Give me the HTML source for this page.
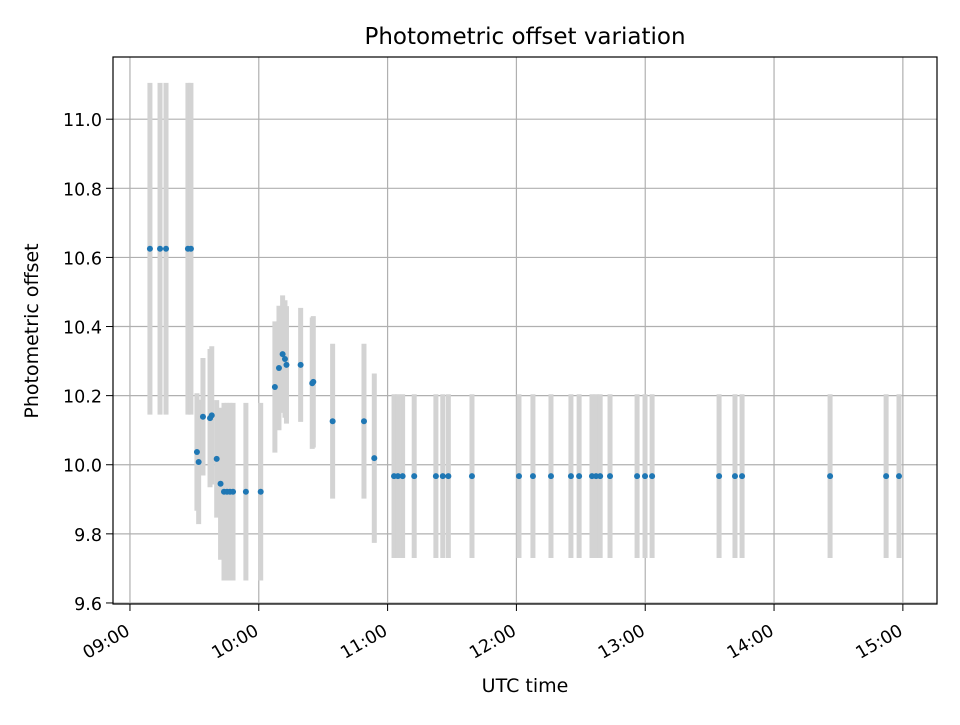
<!DOCTYPE html>
<html><head><meta charset="utf-8"><style>
body{margin:0;background:#fff}
svg{font-family:"DejaVu Sans","Liberation Sans",sans-serif}
</style></head><body>
<svg id="chart" width="960" height="720">
<rect width="960" height="720" fill="#fff"/>
<text x="525" y="44" font-size="23" text-anchor="middle">Photometric offset variation</text>
<g id="grid"></g><g id="bars"></g><g id="pts"></g><g id="axes"></g>
<text x="525" y="692" font-size="19" text-anchor="middle">UTC time</text>
<text transform="translate(38,331) rotate(-90)" font-size="19" text-anchor="middle">Photometric offset</text>
</svg>
<script>
// minutes after 09:00 UTC
const times=[9.3,14.0,16.8,27.0,28.4,31.2,32.0,34.0,37.3,38.1,40.4,42.2,43.8,45.2,46.6,48.0,54.0,60.9,67.5,69.4,71.1,72.2,72.9,79.5,84.9,85.4,94.4,109.0,113.8,123.0,124.8,127.0,132.4,142.5,145.7,148.3,159.3,181.2,187.7,196.1,205.4,209.2,215.2,217.1,219.0,223.6,236.2,239.9,243.2,274.4,281.8,285.1,326.1,352.2,358.2];
const offsets=[10.625,10.625,10.625,10.625,10.625,10.037,10.008,10.139,10.135,10.143,10.017,9.945,9.922,9.922,9.922,9.922,9.922,9.922,10.225,10.28,10.32,10.306,10.289,10.289,10.236,10.24,10.126,10.126,10.019,9.967,9.967,9.967,9.967,9.967,9.967,9.967,9.967,9.967,9.967,9.967,9.967,9.967,9.967,9.967,9.967,9.967,9.967,9.967,9.967,9.967,9.967,9.967,9.967,9.967,9.967];
const errors=[0.48,0.48,0.48,0.48,0.48,0.17,0.18,0.17,0.2,0.2,0.17,0.22,0.257,0.257,0.257,0.257,0.257,0.257,0.19,0.18,0.17,0.17,0.17,0.165,0.19,0.19,0.224,0.224,0.245,0.237,0.237,0.237,0.237,0.237,0.237,0.237,0.237,0.237,0.237,0.237,0.237,0.237,0.237,0.237,0.237,0.237,0.237,0.237,0.237,0.237,0.237,0.237,0.237,0.237,0.237];
const yTicks=[9.6,9.8,10.0,10.2,10.4,10.6,10.8,11.0];
const xTickLabels=["09:00","10:00","11:00","12:00","13:00","14:00","15:00"];
const xTickMinutes=[0,60,120,180,240,300,360];

const L=113,R=937,T=57,B=604;
const xMin=-7.9,xMax=375.9,yMin=9.597,yMax=11.18;
const X=m=>L+(m-xMin)/(xMax-xMin)*(R-L);
const Y=v=>B-(v-yMin)/(yMax-yMin)*(B-T);
const NS="http://www.w3.org/2000/svg";
function mk(tag,attrs,parent){const e=document.createElementNS(NS,tag);for(const k in attrs)e.setAttribute(k,attrs[k]);parent.appendChild(e);return e;}
const grid=document.getElementById('grid'),bars=document.getElementById('bars'),pts=document.getElementById('pts'),axes=document.getElementById('axes');
yTicks.forEach(v=>{
  const g=mk('line',{x1:L,x2:R,y1:Y(v),y2:Y(v),stroke:'#b0b0b0','stroke-width':1.2},grid);
  
  
  mk('line',{x1:L-7,x2:L,y1:Y(v),y2:Y(v),stroke:'#000'},axes);
  const t=mk('text',{x:L-11,y:Y(v)+7,'font-size':17.5,'text-anchor':'end'},axes);
  t.textContent=v.toFixed(1);
  
  
});
xTickMinutes.forEach((m,i)=>{
  const x=X(m);
  const g=mk('line',{x1:x,x2:x,y1:T,y2:B,stroke:'#b0b0b0','stroke-width':1.2},grid);
  
  
  mk('line',{x1:x,x2:x,y1:B,y2:B+7,stroke:'#000'},axes);
  const t=mk('text',{transform:`translate(${x+1},${B+30}) rotate(-30)`,'font-size':17.5,'text-anchor':'end'},axes);
  t.textContent=xTickLabels[i];
  
  
});
times.forEach((m,i)=>{
  const b=mk('line',{x1:X(m),x2:X(m),y1:Y(offsets[i]+errors[i]),y2:Y(offsets[i]-errors[i]),stroke:'#d3d3d3','stroke-width':5},bars);
  
  
});
times.forEach((m,i)=>{
  const c=mk('circle',{cx:X(m),cy:Y(offsets[i]),r:3,fill:'#1f77b4'},pts);
  
  
});
const f=mk('rect',{x:L,y:T,width:R-L,height:B-T,fill:'none',stroke:'#000','stroke-width':1.2},axes);


</script>
</body></html>
